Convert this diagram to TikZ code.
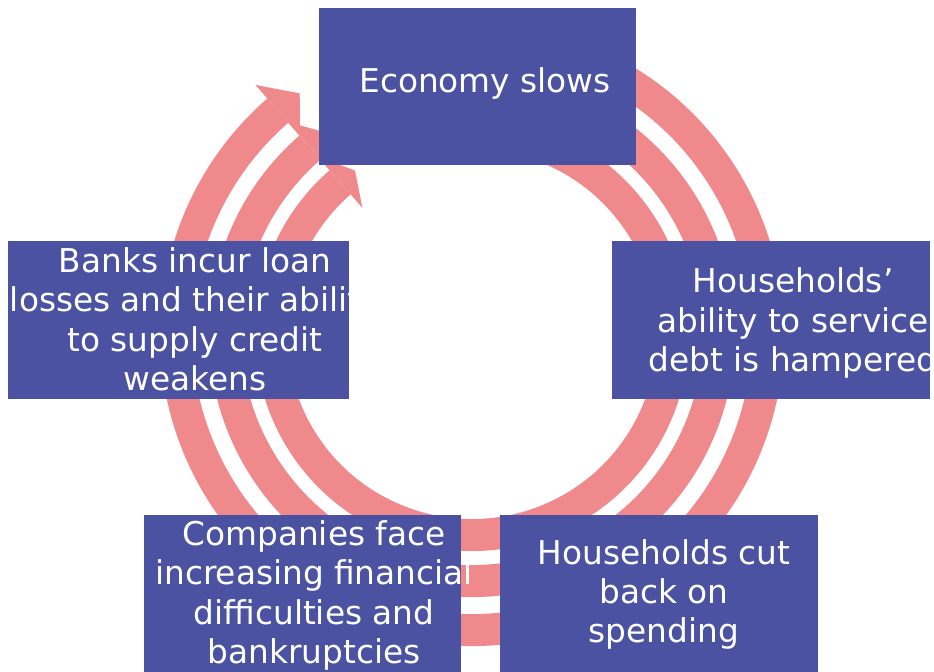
\documentclass[tikz,border=0pt]{standalone}
\usepackage{fontspec}
\setmainfont{DejaVu Sans}
\usepackage{xcolor}
\definecolor{boxblue}{RGB}{75,82,161}
\definecolor{ringpink}{RGB}{240,137,140}
\tikzset{
  ring/.style={draw=ringpink, line width=0.8cm},
  tbox/.style={rectangle, fill=boxblue, inner sep=0pt, minimum width=7.94cm, minimum height=3.93cm},
  txt/.style={text=white, align=center, inner sep=0pt, font=\fontsize{23.3}{28}\selectfont}
}
\begin{document}
\begin{tikzpicture}[x=0.025cm, y=-0.025cm]
  \useasboundingbox (0,0) rectangle (934,671);

  \begin{scope}[shift={(472,334)}]
    \foreach \rad in {296,247,201}{
      \draw[ring] (-70:\rad) arc[start angle=-70, end angle=229, radius=\rad];
      \fill[ringpink] (229:\rad+34) -- (234.4:\rad) -- (229:\rad-34) -- cycle;
    }
  \end{scope}

  \node[tbox] (econ) at (477.5,86.2) {};
  \node[tbox] (hhdebt) at (770.9,320) {};
  \node[tbox, minimum width=8.525cm] (banks) at (178.8,320) {};
  \node[tbox] (compan) at (302.4,593.5) {};
  \node[tbox] (hhcut) at (658.7,593.5) {};

  \node[txt] (econ-t) at (485,83.1) {Economy slows};
  \node[txt] (hhdebt-t) at (793,323) {Households’\\ability to service\\debt is hampered};
  \node[txt] (banks-t) at (195,319.3) {Banks incur loan\\losses and their ability\\to supply credit\\weakens};
  \node[txt] (compan-t) at (314,595.3) {Companies face\\increasing financial\\difficulties and\\bankruptcies};
  \node[txt] (hhcut-t) at (664,594.4) {Households cut\\back on\\spending};
\end{tikzpicture}
\end{document}
